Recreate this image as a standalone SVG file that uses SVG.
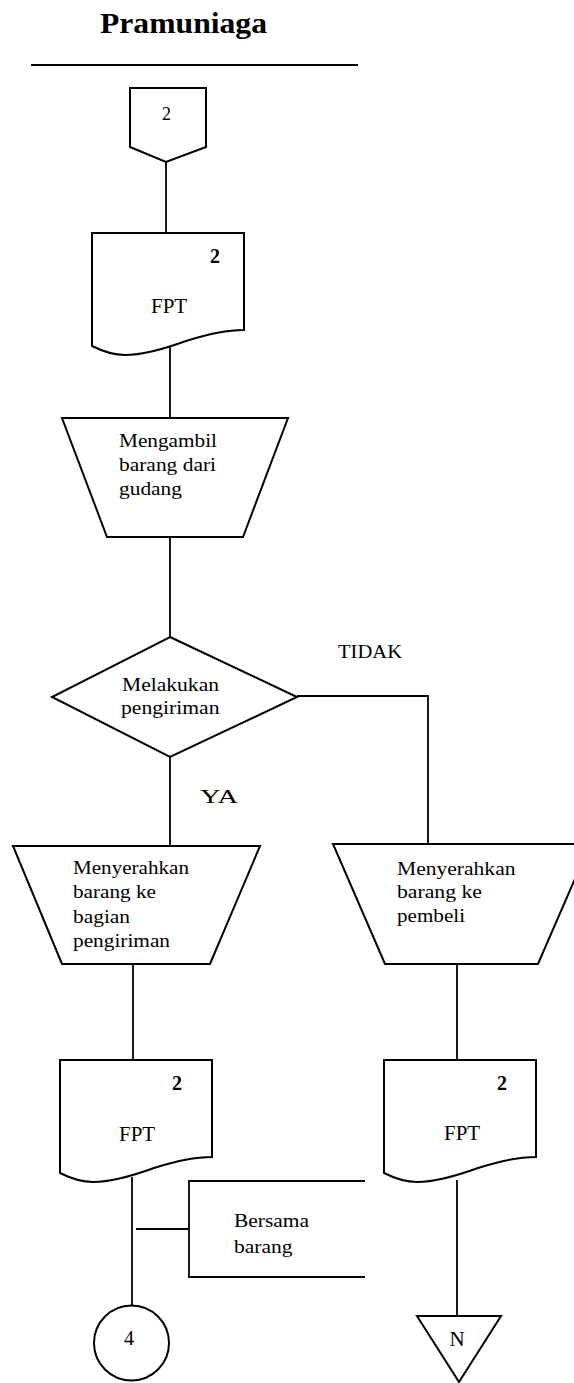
<svg xmlns="http://www.w3.org/2000/svg" xmlns:xlink="http://www.w3.org/1999/xlink" width="574" height="1383" viewBox="0 0 574 1383">
<style>
.s{fill:#fff;stroke:#000;stroke-width:2;stroke-linejoin:miter}
.c{fill:none;stroke:#000;stroke-width:1.8}
.t{font-family:"Liberation Serif","Times New Roman",serif;font-size:18.5px;fill:#000}
.f{font-family:"Liberation Serif","Times New Roman",serif;font-size:21px;fill:#000}
.n{font-family:"Liberation Serif","Times New Roman",serif;font-size:20px;font-weight:bold;fill:#000}
.ti{font-family:"Liberation Serif","Times New Roman",serif;font-size:30px;font-weight:bold;fill:#000}
</style>
<defs>
<path id="doc" d="M0,0 H152 V97 C137,97 122,99 94,108 C72,116 52,122 33,122 C21,122 10,118 0,113 Z"/>
</defs>
<rect width="574" height="1383" fill="#fff"/>
<g id="title">
<text class="ti" x="100" y="33" textLength="167" lengthAdjust="spacingAndGlyphs">Pramuniaga</text>
<line x1="31" y1="65" x2="358" y2="65" stroke="#000" stroke-width="2"/>
</g>
<g id="connectors">
<path class="c" d="M166,162 V233"/>
<path class="c" d="M170,347 V418"/>
<path class="c" d="M170,537 V637"/>
<path class="c" d="M170,757 V846"/>
<path class="c" d="M297,696 H428 V844"/>
<path class="c" d="M133,964 V1060"/>
<path class="c" d="M457,964 V1060"/>
<path class="c" d="M132,1177 V1305"/>
<path class="c" d="M457,1180 V1316"/>
<path class="c" d="M136,1229 H189"/>
</g>
<g id="offpage2">
<polygon class="s" points="130,88 206,88 206,147 166,162 130,147"/>
<text class="t" x="166.5" y="120" text-anchor="middle" style="font-size:18px">2</text>
</g>
<g id="doc1">
<use xlink:href="#doc" href="#doc" class="s" transform="translate(92,233)"/>
<text class="n" x="210" y="263">2</text>
<text class="f" x="151" y="313">FPT</text>
</g>
<g id="manual1">
<polygon class="s" points="62,418 288,418 243,537 107,537"/>
<text class="t" x="119" y="447" textLength="98" lengthAdjust="spacingAndGlyphs">Mengambil</text>
<text class="t" x="119" y="471" textLength="97" lengthAdjust="spacingAndGlyphs">barang dari</text>
<text class="t" x="119" y="495" textLength="63" lengthAdjust="spacingAndGlyphs">gudang</text>
</g>
<g id="decision">
<polygon class="s" points="170,637 297,697 170,757 52,697"/>
<text class="t" x="122" y="691" textLength="97" lengthAdjust="spacingAndGlyphs">Melakukan</text>
<text class="t" x="121" y="714" textLength="98.5" lengthAdjust="spacingAndGlyphs">pengiriman</text>
</g>
<g id="labels">
<text class="t" x="338" y="658" textLength="64" lengthAdjust="spacingAndGlyphs">TIDAK</text>
<text class="t" x="200" y="803" textLength="38" lengthAdjust="spacingAndGlyphs">YA</text>
</g>
<g id="manual2">
<polygon class="s" points="13,846 260,846 210,964 62,964"/>
<text class="t" x="73" y="874" textLength="116" lengthAdjust="spacingAndGlyphs">Menyerahkan</text>
<text class="t" x="73" y="898" textLength="83" lengthAdjust="spacingAndGlyphs">barang ke</text>
<text class="t" x="73" y="923" textLength="57" lengthAdjust="spacingAndGlyphs">bagian</text>
<text class="t" x="73" y="947" textLength="97" lengthAdjust="spacingAndGlyphs">pengiriman</text>
</g>
<g id="manual3">
<polygon class="s" points="333,844 590,844 538,964 385,964"/>
<text class="t" x="397" y="875" textLength="118.5" lengthAdjust="spacingAndGlyphs">Menyerahkan</text>
<text class="t" x="397" y="898" textLength="85" lengthAdjust="spacingAndGlyphs">barang ke</text>
<text class="t" x="397" y="922" textLength="68" lengthAdjust="spacingAndGlyphs">pembeli</text>
</g>
<g id="doc3">
<use xlink:href="#doc" href="#doc" class="s" transform="translate(60,1060)"/>
<text class="n" x="172" y="1090">2</text>
<text class="f" x="119" y="1141">FPT</text>
</g>
<g id="doc4">
<use xlink:href="#doc" href="#doc" class="s" transform="translate(384,1060)"/>
<text class="n" x="497" y="1090">2</text>
<text class="f" x="444" y="1140">FPT</text>
</g>
<g id="annotation">
<path class="c" d="M365,1181 H189 V1277 H365"/>
<text class="t" x="234" y="1227" textLength="75" lengthAdjust="spacingAndGlyphs">Bersama</text>
<text class="t" x="234" y="1253" textLength="58.5" lengthAdjust="spacingAndGlyphs">barang</text>
</g>
<g id="connector4">
<circle class="s" cx="131.5" cy="1343" r="37.5"/>
<text class="f" x="129" y="1345" text-anchor="middle" style="font-size:20px">4</text>
</g>
<g id="storageN">
<polygon class="s" points="417,1316 501,1316 459,1382"/>
<text class="f" x="457" y="1346" text-anchor="middle">N</text>
</g>
</svg>
